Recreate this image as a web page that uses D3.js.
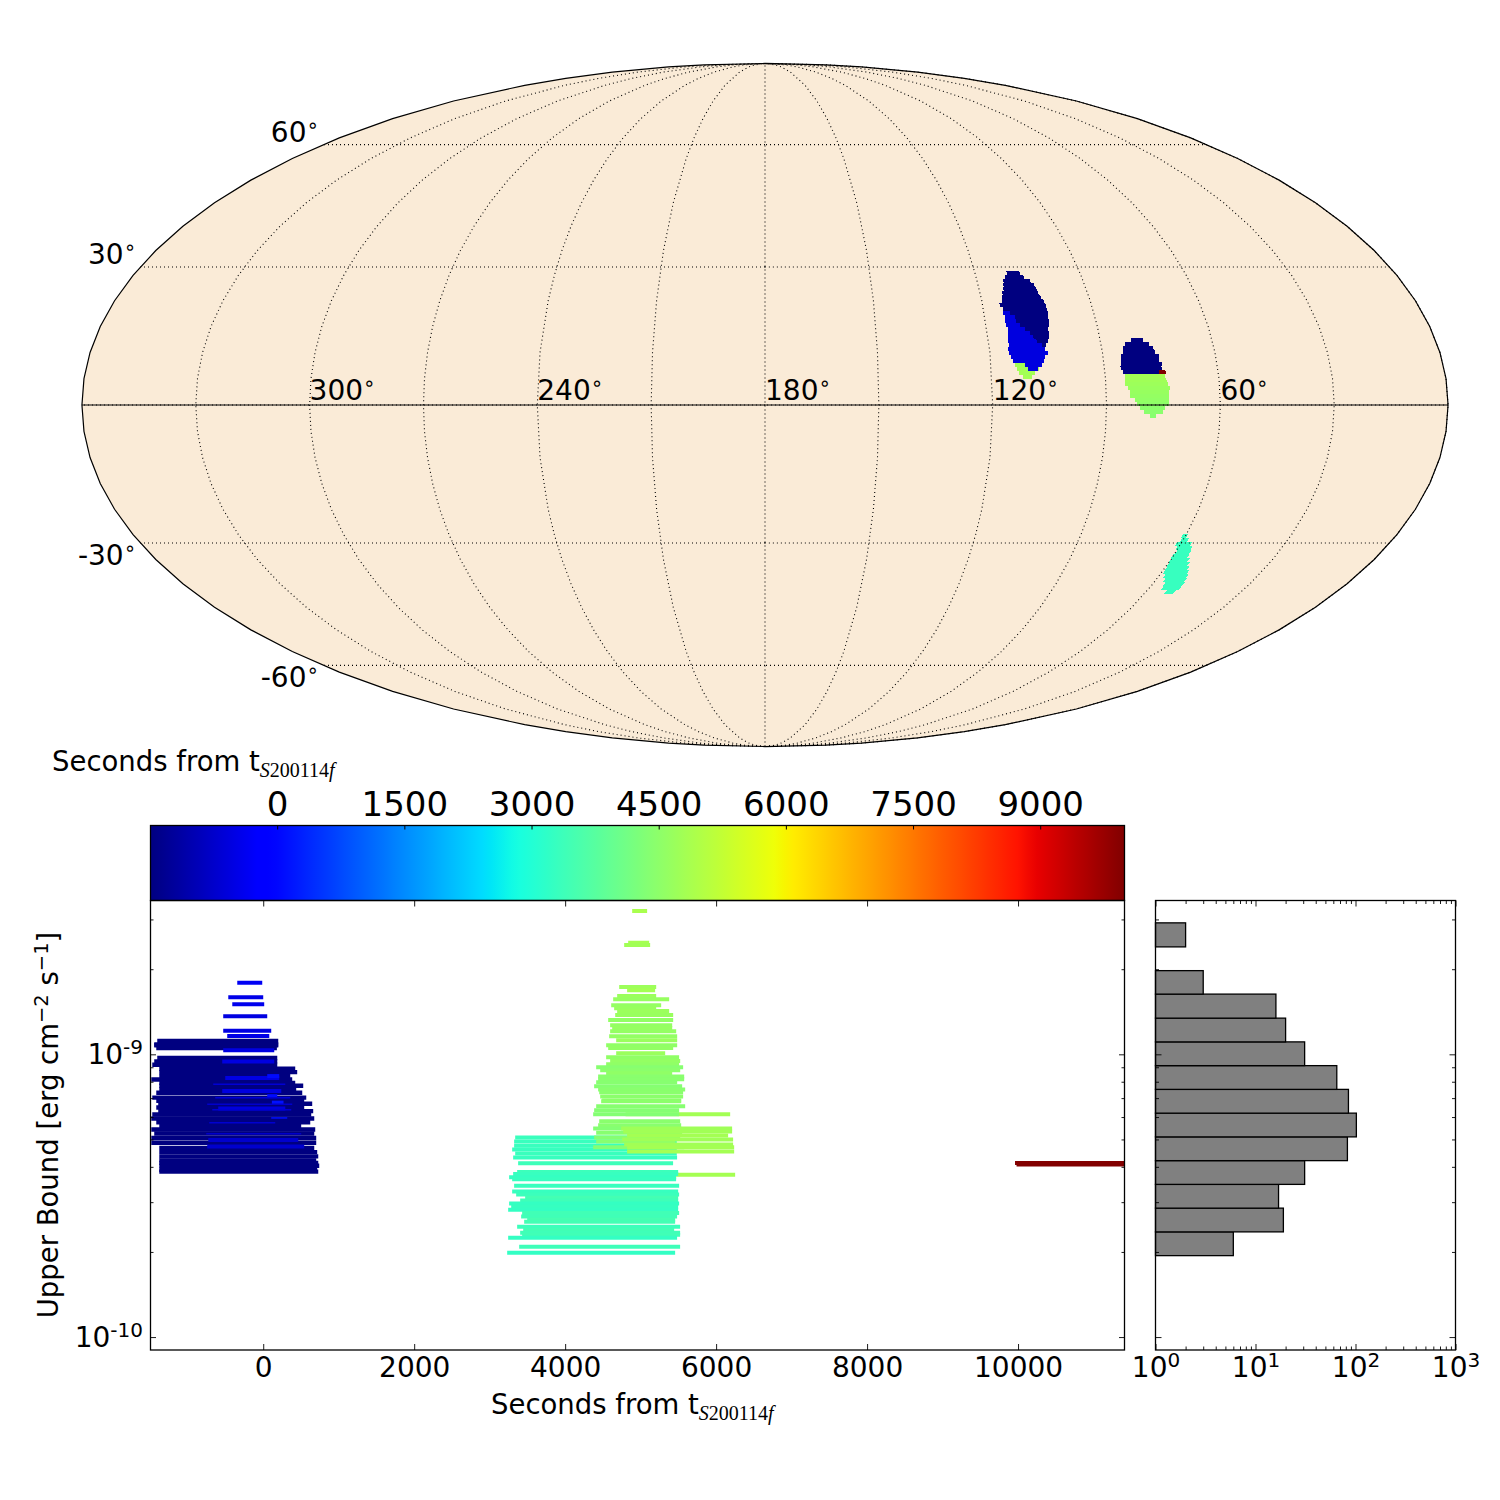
<!DOCTYPE html>
<html><head><meta charset="utf-8">
<script src="https://cdn.jsdelivr.net/npm/d3@7"></script>
<style>html,body{margin:0;padding:0;background:#fff}svg{display:block}text{font-family:"DejaVu Sans";fill:#000}</style>
</head><body><svg id="c" width="1500" height="1500"></svg>
<script>
// ---------- data ----------
const meridianLabels=[300,240,180,120,60];
const parallelLabels=[[60,"60"],[30,"30"],[-30,"-30"],[-60,"-60"]];
const colorbarTicks=[0,1500,3000,4500,6000,7500,9000];
const timeTicks=[0,2000,4000,6000,8000,10000];
const fluxMajor=[1e-10,1e-9];
const fluxMinor=[2e-10,3e-10,4e-10,5e-10,6e-10,7e-10,8e-10,9e-10,2e-9,3e-9];
const countMajor=[1,10,100,1000];
const countMinor=[2,3,4,5,6,7,8,9,20,30,40,50,60,70,80,90,200,300,400,500,600,700,800,900];
// sky patches: [dec, RA at left edge, RA at right edge, seconds]
const skyNavyA=[[28.66,110.92,107.2],[27.77,111.78,106.39],[26.88,112.64,105],[25.99,112.93,104.19],[25.1,113.22,103.95],[24.21,113.84,103.8],[23.33,114.2,103.37],[22.44,114.47,102.86],[21.56,115.3,102.63],[20.68,114.68,102.6],[19.8,112.97,102.57],[18.92,111.81,102.8],[18.05,111.74,102.78],[17.18,110.87,103.01],[16.32,109.73,103.52],[15.45,108.61,103.49],[14.59,107.86,103.64],[13.72,107.11,104.06],[12.86,105.92,104.76]];
const skyBlueA=[[19.8,114.88,112.97],[18.92,114.53,111.81],[18.05,114.74,111.74],[17.18,114.67,110.87],[16.32,114.33,109.73],[15.45,114.53,108.61],[14.59,114.66,107.86],[13.72,114.8,107.11],[12.86,114.66,105.92],[12,115.06,105.17],[11.14,114.93,104.52],[10.28,114.53,105.47],[9.42,114.12,105.9],[8.56,111,106.5],[7.7,110.27,107.62]];
const skyLimeA=[[8.56,113.67,109.7],[7.7,113.27,107.44],[6.84,112.8,108.58],[5.99,111.82,109.44]];
const skyNavyB=[[13.94,81.8,78.5],[13.08,83.6,77.18],[12.21,84.33,76.23],[11.35,84.52,75.99],[10.49,85.25,75.14],[9.63,85.35,75.25],[8.77,85.54,74.66],[7.92,85.73,74.87],[7.06,85.29,74.98]];
const skyRed=[[7.06,75.77,73.92]];
const skyLimeB=[[6.2,84.81,74.23,4800],[5.35,84.9,73.9,4760],[4.49,84.95,73.52,4720],[3.63,84.25,73.18,4680],[2.78,83.8,73.5,4640],[1.92,83.83,73.55,4600],[1.07,82.51,73.55,4560],[0.21,81.98,73.55,4520],[-0.64,81.19,74.6,4480],[-1.5,80.14,75.04,4450],[-2.35,78.56,76.8,4420]];
const skyTeal=[[-28.43,60.95,59.52],[-29.33,60.6,58.58],[-30.24,61.38,57.05],[-31.15,60.6,56.24],[-32.07,59.93,55.85],[-32.98,60.31,55.6],[-33.9,60.1,54.76],[-34.81,59.88,53.91],[-35.72,59.66,53.05],[-36.65,59.44,52.18],[-37.59,58.46,51.45],[-38.53,57.47,51.01],[-39.47,56.46,50.58],[-40.41,56.06,50.44],[-41.35,53.76,50.93]];
// upper-limit bars: [start s, end s, log10 flux]
const barsLate=[[4800,6186,-9.212],[4830,6252,-9.426]];
const barsNavy=[[-1404,199,-8.953],[-1444,199,-8.965],[-1444,199,-8.968],[-1417,181,-8.978],[-1404,186,-9.013],[-1444,186,-9.025],[-1470,186,-9.037],[-1377,424,-9.051],[-1377,450,-9.063],[-1377,358,-9.077],[-1483,384,-9.089],[-1377,424,-9.101],[-1377,530,-9.111],[-1377,437,-9.124],[-1417,517,-9.136],[-1470,570,-9.153],[-1417,543,-9.164],[-1391,649,-9.175],[-1417,543,-9.188],[-1391,662,-9.201],[-1470,636,-9.213],[-1483,676,-9.227],[-1417,623,-9.24],[-1377,503,-9.254],[-1483,689,-9.266],[-1444,676,-9.28],[-1483,702,-9.296],[-1483,702,-9.313],[-1377,676,-9.331],[-1377,715,-9.346],[-1377,729,-9.361],[-1377,702,-9.375],[-1377,729,-9.384],[-1377,742,-9.394],[-1377,715,-9.408],[-1377,729,-9.415]];
const barsBlue=[[-344,-13,-8.747],[-463,0,-8.798],[-410,13,-8.823],[-530,53,-8.865],[-530,106,-8.917],[-477,80,-8.935],[-530,146,-8.986],[-543,146,-9.025],[-503,212,-9.084],[53,212,-9.077],[-543,239,-9.13],[53,186,-9.148],[115,269,-9.171],[-596,292,-9.192],[-728,464,-9.303],[-742,543,-9.326]];
const barsBlueThin=[[-662,292,-9.106],[-636,358,-9.154],[-742,384,-9.177],[-675,371,-9.196],[106,318,-9.225],[-715,159,-9.242],[-755,503,-9.281]];
const barsTeal=[[3338,5479,-9.294],[3324,5479,-9.308],[3324,5479,-9.323],[3298,5479,-9.337],[3338,5479,-9.351],[3311,5483,-9.365],[3377,5430,-9.385],[3364,5497,-9.416],[3311,5497,-9.423],[3258,5470,-9.435],[3298,5470,-9.442],[3324,5510,-9.465],[3298,5497,-9.485],[3351,5510,-9.496],[3470,5497,-9.507],[3404,5497,-9.517],[3258,5510,-9.528],[3285,5497,-9.539],[3245,5497,-9.55],[3430,5510,-9.561],[3417,5483,-9.574],[3497,5457,-9.585],[3457,5457,-9.592],[3364,5523,-9.61],[3444,5444,-9.621],[3404,5523,-9.631],[3430,5523,-9.638],[3245,5483,-9.649],[3391,5523,-9.681],[3232,5457,-9.702]];
const barsGreen=[[4888,5086,-8.493],[4835,5113,-8.605],[4782,5126,-8.613],[4716,5206,-8.762],[4821,5192,-8.773],[4689,5206,-8.794],[4636,5378,-8.805],[4610,5272,-8.826],[4649,5206,-8.837],[4689,5378,-8.847],[4663,5431,-8.861],[4570,5431,-8.879],[4596,5418,-8.897],[4623,5418,-8.907],[4596,5471,-8.918],[4583,5484,-8.936],[4676,5484,-8.95],[4543,5484,-8.968],[4570,5431,-8.978],[4676,5325,-8.996],[4543,5510,-9.01],[4596,5524,-9.024],[4543,5510,-9.035],[4411,5563,-9.046],[4464,5524,-9.056],[4543,5418,-9.067],[4437,5577,-9.078],[4437,5577,-9.088],[4411,5484,-9.099],[4384,5550,-9.113],[4437,5590,-9.124],[4451,5563,-9.134],[4464,5563,-9.149],[4490,5537,-9.163],[4477,5537,-9.166],[4411,5590,-9.184],[4384,5510,-9.198],[4371,5510,-9.212],[4451,5524,-9.237],[4437,5537,-9.251],[4371,5537,-9.262],[4411,5550,-9.277],[4384,5524,-9.294],[4411,5457,-9.308],[4371,5577,-9.329]];
const barsLong=[[4742,6212,-9.262],[4769,6212,-9.273],[4821,6159,-9.287],[4755,6225,-9.301],[4782,6225,-9.319],[4821,6239,-9.329],[4821,6239,-9.344]];
const barsRed=[[9960,11500,-9.384],[9980,11500,-9.39]];
// histogram: log10 flux bin edges and counts
const histEdges=[-9.712,-9.628,-9.544,-9.46,-9.376,-9.292,-9.208,-9.124,-9.04,-8.956,-8.872,-8.787,-8.704,-8.62,-8.535];
const histCounts=[6,19,17,31,83,102,85,65,31,20,16,3,0,2];

// ---------- layout & scales ----------
const svg=d3.select("#c");
const M={l:150,r:1125,t:900.5,b:1350}, H={l:1155.5,r:1455.5};
const cbar=d3.scaleLinear().domain([-1500,10000]).range([M.l,M.r]);
const x=d3.scaleLinear().domain([-1500,11417]).range([M.l,M.r]);
const y=d3.scaleLog().domain([9e-11,3.5e-9]).range([M.b,M.t]);
const hx=d3.scaleLog().domain([1,1000]).range([H.l,H.r]);
const jetR=d3.scaleLinear().domain([0,.35,.66,.89,1]).range([0,0,1,1,.5]).clamp(true);
const jetG=d3.scaleLinear().domain([0,.125,.375,.64,.91,1]).range([0,0,1,1,0,0]).clamp(true);
const jetB=d3.scaleLinear().domain([0,.11,.34,.65,1]).range([.5,1,1,0,0]).clamp(true);
const jetF=f=>`rgb(${Math.round(255*jetR(f))},${Math.round(255*jetG(f))},${Math.round(255*jetB(f))})`;
const norm=d3.scaleLinear().domain([-1500,10000]).range([0,1]);
const jet=t=>jetF(norm(t));

// ---------- map ----------
function mollweideRaw(l,p){
  let th=p;
  if(Math.abs(Math.abs(p)-Math.PI/2)<1e-9) th=p;
  else{const k=Math.PI*Math.sin(p);for(let i=0;i<60;i++){const d=(2*th+Math.sin(2*th)-k)/(2+2*Math.cos(2*th));th-=d;if(Math.abs(d)<1e-9)break;}}
  return [2*Math.SQRT2/Math.PI*l*Math.cos(th),Math.SQRT2*Math.sin(th)];
}
const proj=d3.geoProjection(mollweideRaw).scale(241.5).translate([765,405]).rotate([-180,0]).reflectX(true);
const geo=d3.geoPath(proj);
const map=svg.append("g");
map.append("path").datum({type:"Sphere"}).attr("d",geo).attr("fill","#faebd7");
const DEC=0.47;
function drawSky(rows,t){
  map.append("g").attr("shape-rendering","crispEdges").selectAll("path").data(rows).join("path")
    .attr("fill",d=>jet(d[3]!==undefined?d[3]:t))
    .attr("d",d=>"M"+[[d[1],d[0]+DEC],[d[2],d[0]+DEC],[d[2],d[0]-DEC],[d[1],d[0]-DEC]].map(c=>proj(c)).join("L")+"Z");
}
drawSky(skyLimeA,4800);drawSky(skyBlueA,-550);drawSky(skyNavyA,-1500);
drawSky(skyLimeB);drawSky(skyNavyB,-1500);drawSky(skyRed,10000);drawSky(skyTeal,3300);
const grat=d3.geoGraticule().extent([[-180,-90],[180,90]]).step([30,30]).precision(2);
map.append("path").datum(grat()).attr("d",geo).attr("fill","none").attr("stroke","#000").attr("stroke-width",1.1).attr("stroke-dasharray","1 3");
map.append("path").datum({type:"LineString",coordinates:d3.range(0,361,5).map(r=>[r===360?359.999:(r===0?0.001:r),0])}).attr("d",geo).attr("fill","none").attr("stroke","#000").attr("stroke-width",1.2);
map.append("path").datum({type:"Sphere"}).attr("d",geo).attr("fill","none").attr("stroke","#000").attr("stroke-width",1.2);
function deg(t,s){t.append("tspan").text(s);t.append("tspan").attr("font-size",20).attr("dy",-10).text("\u2218");}
meridianLabels.forEach(r=>{const t=map.append("text").attr("x",proj([r,0])[0]).attr("y",400).attr("font-size",28);deg(t,String(r));});
parallelLabels.forEach(([d,s])=>{
  const p=proj([359.99,d]);
  const t=map.append("text").attr("x",p[0]-4).attr("y",p[1]+(d>0?-3:22)).attr("text-anchor","end").attr("font-size",28);deg(t,s);
});

// ---------- helper for the label with math subscript ----------
function secondsLabel(px,py){
  const t=svg.append("text").attr("x",px).attr("y",py).attr("font-size",27.5);
  t.append("tspan").text("Seconds from t");
  t.append("tspan").attr("dy",6).attr("font-size",20).attr("font-family","Liberation Serif").attr("font-style","italic").text("S");
  t.append("tspan").attr("font-size",20).attr("font-family","Liberation Serif").text("200114");
  t.append("tspan").attr("font-size",20).attr("font-family","Liberation Serif").attr("font-style","italic").text("f");
}
secondsLabel(52,771);

// ---------- colour bar ----------
const grad=svg.append("defs").append("linearGradient").attr("id","jet");
d3.range(0,1.0001,.01).forEach(f=>grad.append("stop").attr("offset",f).attr("stop-color",jetF(f)));
svg.append("rect").attr("x",M.l).attr("y",825).attr("width",M.r-M.l).attr("height",75).attr("fill","url(#jet)");
const cbAxis=svg.append("g").attr("transform","translate(0,825.5)").call(d3.axisTop(cbar).tickValues(colorbarTicks).tickSize(-4).tickPadding(10).tickFormat(d3.format("d")));
cbAxis.select(".domain").remove();
cbAxis.selectAll("text").attr("font-size",34).attr("font-family","DejaVu Sans");
svg.append("rect").attr("x",M.l+.5).attr("y",825.5).attr("width",M.r-M.l-1).attr("height",75).attr("fill","none").attr("stroke","#000").attr("stroke-width",1.3);

// ---------- limits panel ----------
svg.append("clipPath").attr("id","pl").append("rect").attr("x",M.l).attr("y",M.t).attr("width",M.r-M.l).attr("height",M.b-M.t);
const bars=svg.append("g").attr("clip-path","url(#pl)");
function drawBars(rows,w){
  bars.append("g").selectAll("line").data(rows).join("line")
    .attr("x1",d=>x(d[0])).attr("x2",d=>x(d[1]))
    .attr("y1",d=>y(Math.pow(10,d[2]))).attr("y2",d=>y(Math.pow(10,d[2])))
    .attr("stroke",d=>d[0]<-800?jet(-1500):jet(d[0])).attr("stroke-width",w);
}
drawBars(barsLate,4);drawBars(barsNavy,4.4);drawBars(barsBlue,4);drawBars(barsBlueThin,1.5);
drawBars(barsTeal,4);drawBars(barsGreen,4);drawBars(barsLong,4);drawBars(barsRed,4);

// ---------- histogram ----------
const histRows=histCounts.map((c,i)=>({c,lo:histEdges[i],hi:histEdges[i+1]})).filter(d=>d.c>0);
svg.append("g").selectAll("rect").data(histRows).join("rect")
  .attr("x",H.l).attr("width",d=>hx(d.c)-H.l)
  .attr("y",d=>y(Math.pow(10,d.hi))).attr("height",d=>y(Math.pow(10,d.lo))-y(Math.pow(10,d.hi)))
  .attr("fill","#808080").attr("stroke","#000").attr("stroke-width",1.3);

// ---------- axes ----------
const noLabel=()=>"";
function tidy(g){g.select(".domain").remove();g.selectAll(".tick line").attr("stroke","#000").attr("stroke-width",.9);return g;}
function place(sel,tx,ty,axis){return tidy(svg.append("g").attr("transform",`translate(${tx},${ty})`).call(axis));}
function power(sel,supSize){
  sel.selectAll("text").attr("font-size",28).attr("font-family","DejaVu Sans").each(function(d){
    const e=Math.round(Math.log10(d)),t=d3.select(this).text(null);
    t.append("tspan").text("10");
    t.append("tspan").attr("font-size",supSize).attr("dy",-10).text(e);
  });
}
// limits panel
const xb=place(svg,0,M.b,d3.axisBottom(x).tickValues(timeTicks).tickSize(-6).tickPadding(7).tickFormat(d3.format("d")));
xb.selectAll("text").attr("font-size",28).attr("font-family","DejaVu Sans");
place(svg,0,M.t,d3.axisTop(x).tickValues(timeTicks).tickSize(-6).tickFormat(noLabel));
const yl=place(svg,M.l,0,d3.axisLeft(y).tickValues(fluxMajor).tickSize(-6).tickPadding(7));
power(yl,20);
place(svg,M.l,0,d3.axisLeft(y).tickValues(fluxMinor).tickSize(-3.5).tickFormat(noLabel));
place(svg,M.r,0,d3.axisRight(y).tickValues(fluxMajor).tickSize(-6).tickFormat(noLabel));
place(svg,M.r,0,d3.axisRight(y).tickValues(fluxMinor).tickSize(-3.5).tickFormat(noLabel));
svg.append("rect").attr("x",M.l+.5).attr("y",M.t).attr("width",M.r-M.l-1).attr("height",M.b-M.t).attr("fill","none").attr("stroke","#000").attr("stroke-width",1.3);
secondsLabel(491,1414);
const yt=svg.append("text").attr("transform","translate(58,1125) rotate(-90)").attr("text-anchor","middle").attr("font-size",27.5);
yt.append("tspan").text("Upper Bound [erg cm");
yt.append("tspan").attr("font-size",19.5).attr("dy",-10).text("\u22122");
yt.append("tspan").attr("dy",10).text(" s");
yt.append("tspan").attr("font-size",19.5).attr("dy",-10).text("\u22121");
yt.append("tspan").attr("dy",10).text("]");
// histogram panel
const hb=place(svg,0,M.b,d3.axisBottom(hx).tickValues(countMajor).tickSize(-6).tickPadding(7));
power(hb,20);
place(svg,0,M.b,d3.axisBottom(hx).tickValues(countMinor).tickSize(-3.5).tickFormat(noLabel));
place(svg,0,M.t,d3.axisTop(hx).tickValues(countMajor).tickSize(-6).tickFormat(noLabel));
place(svg,0,M.t,d3.axisTop(hx).tickValues(countMinor).tickSize(-3.5).tickFormat(noLabel));
[H.l,H.r].forEach((px,i)=>{
  const mk=i?d3.axisRight:d3.axisLeft;
  place(svg,px,0,mk(y).tickValues(fluxMajor).tickSize(-6).tickFormat(noLabel));
  place(svg,px,0,mk(y).tickValues(fluxMinor).tickSize(-3.5).tickFormat(noLabel));
});
svg.append("rect").attr("x",H.l).attr("y",M.t).attr("width",H.r-H.l).attr("height",M.b-M.t).attr("fill","none").attr("stroke","#000").attr("stroke-width",1.3);
</script></body></html>
